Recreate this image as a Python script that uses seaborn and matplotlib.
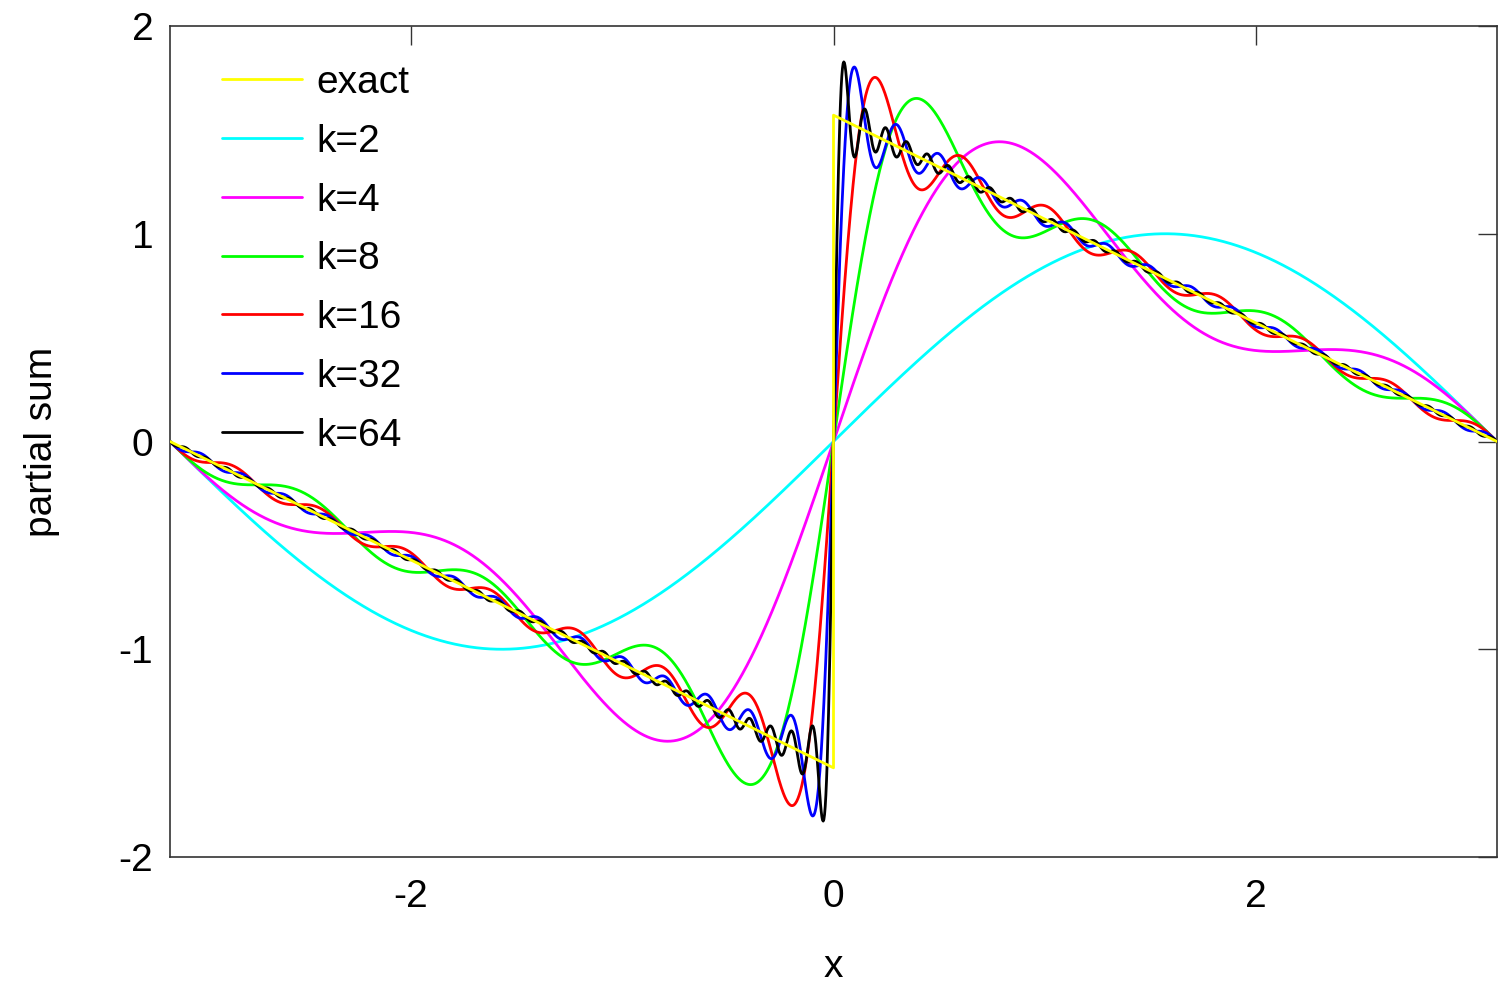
"""
Sumas parciales de la serie de Fourier de la diente de sierra
f(x) = (pi - x)/2 en (0, pi), impar en (-pi, pi).
"""
import numpy as np
import pandas as pd
import matplotlib
matplotlib.use("Agg")
import matplotlib.pyplot as plt
import seaborn as sns

# --- Datos ---
ks = [2, 4, 8, 16, 32, 64]
series_labels = ["exact", "k=2", "k=4", "k=8", "k=16", "k=32", "k=64"]
series_colors = ["#ffff00", "#00ffff", "#ff00ff", "#00ff00", "#ff0000", "#0000ff", "#000000"]
x_ticks = [-2, 0, 2]
y_ticks = [-2, -1, 0, 1, 2]

# malla de muestreo
x_left = np.linspace(-np.pi, 0, 600)
x_right = np.linspace(0, np.pi, 600)
x_grid = np.linspace(-np.pi, np.pi, 2000)


def partial_sum(x, k):
    """Suma de sin(n x)/n para n = 1..k-1."""
    s = np.zeros_like(x)
    for n in range(1, k):
        s += np.sin(n * x) / n
    return s


# funcion exacta con el salto en x = 0
x_exact = np.concatenate([x_left, x_right])
y_exact = np.concatenate([-(np.pi + x_left) / 2, (np.pi - x_right) / 2])
df_exact = pd.DataFrame({"x": x_exact, "y": y_exact})

frames = []
for k in ks:
    frames.append(pd.DataFrame({"x": x_grid, "y": partial_sum(x_grid, k), "serie": f"k={k}"}))
df_sums = pd.concat(frames, ignore_index=True)

# --- Grafico ---
sns.set_theme(style="white")
plt.rcParams["font.family"] = ["Liberation Sans", "DejaVu Sans"]
plt.rcParams["axes.unicode_minus"] = False
plt.rcParams["text.color"] = "black"
plt.rcParams["axes.labelcolor"] = "black"
FS = 28

fig = plt.figure(figsize=(14.99, 9.83), dpi=100)
ax = fig.add_axes([170 / 1499, 1 - 857 / 983, (1497 - 170) / 1499, (857 - 26) / 983])

for i, k in enumerate(ks):
    sub = df_sums[df_sums["serie"] == f"k={k}"]
    sns.lineplot(data=sub, x="x", y="y", color=series_colors[i + 1], lw=2,
                 estimator=None, sort=False, label=f"k={k}", ax=ax, zorder=2 + i)
sns.lineplot(data=df_exact, x="x", y="y", color=series_colors[0], lw=2,
             estimator=None, sort=False, label="exact", ax=ax, zorder=10)

ax.set_xlim(-np.pi, np.pi)
ax.set_ylim(-2, 2)
ax.set_xticks(x_ticks)
ax.set_yticks(y_ticks)
ax.tick_params(direction="in", length=14, width=1, labelsize=FS, top=True, right=True,
               colors="#333333", labelcolor="black")
ax.tick_params(axis="x", pad=16)
ax.tick_params(axis="y", pad=12)
for sp in ax.spines.values():
    sp.set_color("#333333")
    sp.set_linewidth(1.2)
ax.set_xlabel("x", fontsize=FS, labelpad=24)
ax.set_ylabel("partial sum", fontsize=FS, labelpad=42)

handles, labels = ax.get_legend_handles_labels()
order = [labels.index(lbl) for lbl in series_labels]
ax.legend([handles[i] for i in order], [labels[i] for i in order],
          loc="upper left", bbox_to_anchor=(52 / 1327, 1 - 39 / 831), borderaxespad=0,
          borderpad=0, frameon=False, fontsize=FS, handlelength=2.06,
          handletextpad=0.36, labelspacing=0.585)

plt.savefig("out.png", dpi=100)
plt.close()
